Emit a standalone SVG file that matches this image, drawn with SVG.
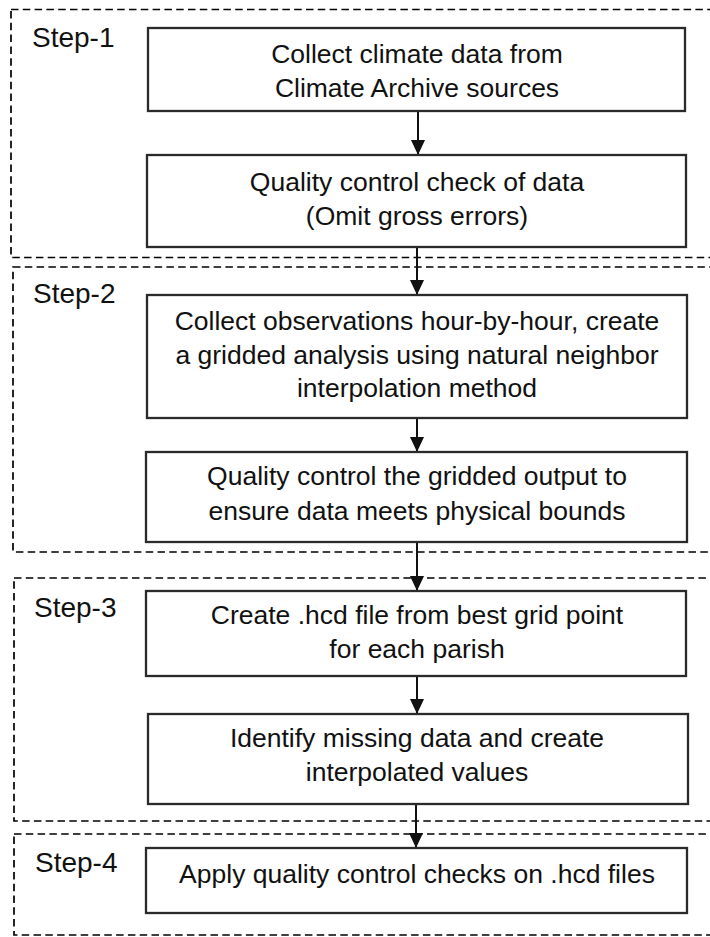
<svg xmlns="http://www.w3.org/2000/svg" width="710" height="937" viewBox="0 0 710 937">
<style>
.step{fill:none;stroke:#000;stroke-width:1.7;stroke-dasharray:7.5 4.3}
.box{fill:#fff;stroke:#2a2a2a;stroke-width:2.3}
.lbl{font-family:"Liberation Sans",Arial,sans-serif;font-size:28px;fill:#111}
.txt{font-family:"Liberation Sans",Arial,sans-serif;font-size:26.5px;fill:#111;text-anchor:middle}
.conn{fill:none;stroke:#111;stroke-width:2}
</style>
<defs>
<marker id="ah" markerUnits="userSpaceOnUse" markerWidth="15" markerHeight="14" viewBox="0 0 15 14" refX="15" refY="7" orient="auto">
<path d="M0,0 L15,7 L0,14 Z" fill="#111"/>
</marker>
</defs>
<rect width="710" height="937" fill="#fff"/>
<g id="steps">
<g id="step1"><rect class="step" x="11" y="9.5" width="730" height="248"/><text class="lbl" x="32" y="47">Step-1</text></g>
<g id="step2"><rect class="step" x="13" y="267" width="730" height="285"/><text class="lbl" x="33" y="303">Step-2</text></g>
<g id="step3"><rect class="step" x="14" y="578" width="730" height="243"/><text class="lbl" x="34" y="617">Step-3</text></g>
<g id="step4"><rect class="step" x="14" y="834" width="730" height="101"/><text class="lbl" x="35" y="872">Step-4</text></g>
</g>
<g id="connectors">
<path class="conn" d="M418,111 V155" marker-end="url(#ah)"/>
<path class="conn" d="M417,247 V295" marker-end="url(#ah)"/>
<path class="conn" d="M417,418 V452" marker-end="url(#ah)"/>
<path class="conn" d="M417,542 V591" marker-end="url(#ah)"/>
<path class="conn" d="M417,676 V714" marker-end="url(#ah)"/>
<path class="conn" d="M416,804 V848" marker-end="url(#ah)"/>
</g>
<g id="n1"><rect class="box" x="148" y="28" width="537" height="83"/>
<text class="txt" x="417" y="63">Collect climate data from</text>
<text class="txt" x="417" y="97">Climate Archive sources</text></g>
<g id="n2"><rect class="box" x="147" y="155" width="539" height="92"/>
<text class="txt" x="417" y="191">Quality control check of data</text>
<text class="txt" x="417" y="225">(Omit gross errors)</text></g>
<g id="n3"><rect class="box" x="147" y="295" width="540" height="123"/>
<text class="txt" x="417" y="330">Collect observations hour-by-hour, create</text>
<text class="txt" x="417" y="363.5">a gridded analysis using natural neighbor</text>
<text class="txt" x="417" y="397">interpolation method</text></g>
<g id="n4"><rect class="box" x="146" y="452" width="541" height="90"/>
<text class="txt" x="417" y="485">Quality control the gridded output to</text>
<text class="txt" x="417" y="520">ensure data meets physical bounds</text></g>
<g id="n5"><rect class="box" x="146" y="591" width="540" height="85"/>
<text class="txt" x="417" y="624">Create .hcd file from best grid point</text>
<text class="txt" x="417" y="658">for each parish</text></g>
<g id="n6"><rect class="box" x="148" y="714" width="540" height="90"/>
<text class="txt" x="417" y="747">Identify missing data and create</text>
<text class="txt" x="417" y="781">interpolated values</text></g>
<g id="n7"><rect class="box" x="146" y="848" width="541" height="65"/>
<text class="txt" x="417" y="883">Apply quality control checks on .hcd files</text></g>
</svg>
